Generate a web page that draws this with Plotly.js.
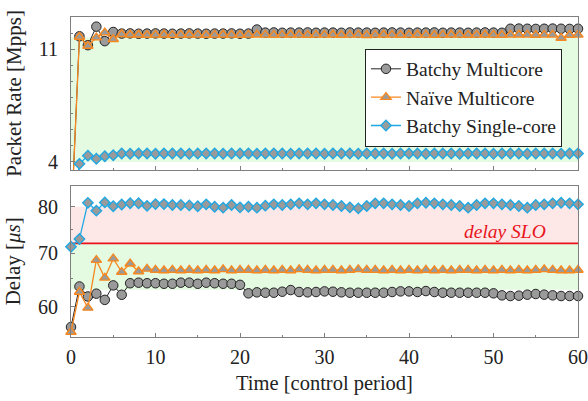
<!DOCTYPE html>
<html>
<head>
<meta charset="utf-8">
<script src="https://cdn.plot.ly/plotly-3.0.1.min.js"></script>
<style>html,body{margin:0;padding:0;background:#fff;}#chart{width:588px;height:401px;}</style>
</head>
<body>
<div id="chart"></div>
<script>
// ---- data ----
const seriesNames = ['Batchy Multicore', 'Naïve Multicore', 'Batchy Single-core'];
const timeSteps = Array.from({length: 61}, (_, i) => i);

const rateBatchyMulti = [0, 11.8, 11.25, 12.4, 11.5, 12.07,
  11.97, 11.98, 11.96, 11.97, 11.98, 11.97, 11.96, 11.97, 11.98, 11.97, 11.96, 11.97, 11.97, 11.98, 11.96, 11.97,
  12.22,
  12.03, 12.04, 12.02, 12.03, 12.03, 12.04, 12.02, 12.03, 12.03, 12.02, 12.04, 12.03, 12.03, 12.02, 12.03, 12.04,
  12.03, 12.02, 12.03, 12.03, 12.04, 12.02, 12.03, 12.03, 12.02, 12.03, 12.04, 12.03, 12.02,
  12.27, 12.28, 12.27, 12.26, 12.27, 12.28, 12.27, 12.26, 12.27];
const rateNaiveMulti = [0, 11.76, 11.2, 11.72, 12.03, 11.62,
  11.93, 11.9, 11.9, 11.88, 11.89, 11.9, 11.88, 11.89, 11.9, 11.89, 11.88, 11.89, 11.9, 11.89, 11.88,
  11.89, 11.9, 11.89, 11.88, 11.89, 11.9, 11.89, 11.88, 11.89, 11.89, 11.9, 11.88, 11.89, 11.89, 11.87,
  11.89, 11.9, 11.89, 11.88, 11.89, 11.9, 11.89, 11.88, 11.89, 11.9, 11.89, 11.88, 11.89, 11.9, 11.89,
  11.88, 11.89, 11.9, 11.89, 11.88, 11.89, 11.89, 11.7, 11.88, 11.89];
const rateBatchySingle = [0, 3.88, 4.39, 4.2, 4.35, 4.41,
  4.52, 4.51, 4.52, 4.52, 4.51, 4.52, 4.52, 4.52, 4.51, 4.52, 4.52, 4.52, 4.51, 4.52, 4.52,
  4.52, 4.51, 4.52, 4.52, 4.52, 4.51, 4.52, 4.52, 4.52, 4.51, 4.52, 4.52, 4.52, 4.51, 4.52,
  4.52, 4.52, 4.51, 4.52, 4.52, 4.52, 4.51, 4.52, 4.52, 4.52, 4.51, 4.52, 4.52, 4.52, 4.51,
  4.52, 4.52, 4.52, 4.51, 4.52, 4.52, 4.52, 4.51, 4.52, 4.52];

const delayBatchyMulti = [56.6, 63.6, 61.8, 62.3, 61.2, 63.8, 62.1, 64.2, 64.3, 64.2, 64.2,
  64.1, 64.1, 64.3, 64.3, 64.1, 64.3, 64.2, 64.1, 64.1, 63.9,
  62.36, 62.54, 62.47, 62.47, 62.65, 62.95, 62.6, 62.54, 62.6, 62.71,
  62.65, 62.54, 62.47, 62.47, 62.47, 62.47, 62.47, 62.6, 62.71, 62.71,
  62.6, 62.77, 62.6, 62.47, 62.47, 62.47, 62.47, 62.47, 62.47, 62.36,
  62.0, 61.88, 61.94, 62.12, 62.24, 62.12, 62.0, 61.88, 61.88, 61.88];
const delayNaiveMulti = [55.8, 62.6, 59.8, 68.6, 65.2, 68.9, 66.3, 67.9, 66.4, 66.9, 66.7,
  66.6, 66.7, 66.6, 66.7, 66.6, 66.7, 66.6, 66.8, 66.6, 66.7,
  66.7, 66.6, 66.7, 66.6, 66.7, 66.6, 66.8, 66.7, 66.6, 66.7,
  66.7, 66.6, 66.7, 66.8, 66.7, 66.7, 66.6, 66.7, 66.6, 66.7,
  66.6, 66.7, 66.6, 66.7, 66.6, 66.7, 66.7, 66.6, 66.7, 66.6,
  66.7, 66.6, 66.7, 66.6, 66.7, 66.8, 66.7, 66.6, 66.6, 66.7];
const delayBatchySingle = [71.3, 72.9, 80.9, 79.1, 81.0, 80.1, 80.5, 80.8, 80.8, 80.2, 80.6,
  80.6, 80.4, 80.4, 80.3, 80.1,
  80.55, 80.0, 79.78, 80.39, 79.85, 80.0, 79.78, 80.24, 80.55, 80.39,
  80.55, 80.78, 80.55, 80.78, 80.55, 80.39, 80.16, 79.85, 79.63, 80.16,
  80.78, 80.78, 80.55, 80.39, 80.16, 80.78, 80.93, 80.78, 80.55, 80.39,
  80.16, 79.78, 80.39, 80.78, 80.78, 80.55, 80.39, 80.16, 79.78, 80.39,
  80.55, 80.78, 80.93, 80.78, 80.55];

const rateBandLow = 4, rateBandHigh = 11.75;
const delaySLO = 72, delayBandHigh = 80, delayBandLow = 63;
const xTicks = [0, 10, 20, 30, 40, 50, 60];
const rateTicks = [4, 11];
const delayTicks = [60, 70, 80];
const delayMinorTicks = [65, 75];

// ---- style ----
const FONT = '"Liberation Serif", "Times New Roman", Times, serif';
const TXT = '#222222';
const FRAME = '#7f7f7f';
const cBlack = '#222222', cOrange = '#f7881f', cBlue = '#1fa8e3', cGray = '#9a9a9a';
const green = 'rgba(228,250,225,1)', pink = 'rgba(253,231,231,1)';
const tMin = timeSteps[0], tMax = timeSteps[timeSteps.length - 1];
const hideFirst = timeSteps.map((t, i) => i === 0 ? 0 : 1);

function band(x0, x1, y0, y1, color, xa, ya) {
  return {x: [x0, x1, x1, x0, x0], y: [y0, y0, y1, y1, y0], xaxis: xa, yaxis: ya,
    mode: 'lines', fill: 'toself', fillcolor: color, line: {width: 0},
    hoverinfo: 'skip', showlegend: false};
}

const styles = [
  {line: {color: cBlack, width: 1}, marker: {symbol: 'circle', size: 9.5, color: cGray, line: {color: cBlack, width: 1}}},
  {line: {color: cOrange, width: 1.3}, marker: {symbol: 'triangle-up', size: 9, color: cGray, line: {color: cOrange, width: 1.4}}},
  {line: {color: cBlue, width: 1.3}, marker: {symbol: 'diamond', size: 8, color: cGray, line: {color: cBlue, width: 1.4}}}
];
const rateSeries = [rateBatchyMulti, rateNaiveMulti, rateBatchySingle];
const delaySeries = [delayBatchyMulti, delayNaiveMulti, delayBatchySingle];

const traces = [
  band(tMin, tMax, rateBandLow, rateBandHigh, green, 'x', 'y'),
  band(tMin, tMax, delayBandLow, delaySLO, green, 'x2', 'y2'),
  band(tMin, tMax, delaySLO, delayBandHigh, pink, 'x2', 'y2'),
  {x: [tMin, tMax], y: [delaySLO, delaySLO], xaxis: 'x2', yaxis: 'y2', mode: 'lines',
   line: {color: '#e8141c', width: 1.6}, hoverinfo: 'skip', showlegend: false}
];
seriesNames.forEach((name, k) => {
  const s = styles[k];
  traces.push({x: timeSteps, y: rateSeries[k], xaxis: 'x', yaxis: 'y', name: name,
    mode: 'lines+markers', line: s.line, legendgroup: name,
    marker: Object.assign({}, s.marker, {opacity: hideFirst}), cliponaxis: false});
});
seriesNames.forEach((name, k) => {
  const s = styles[k];
  traces.push({x: timeSteps, y: delaySeries[k], xaxis: 'x2', yaxis: 'y2', name: name,
    mode: 'lines+markers', line: s.line, marker: s.marker, legendgroup: name,
    showlegend: false, cliponaxis: false});
});

const axisBase = {showline: true, linecolor: FRAME, linewidth: 1, mirror: true,
  ticks: 'inside', ticklen: 4, tickcolor: FRAME, showgrid: false, zeroline: false,
  tickfont: {family: FONT, size: 20, color: TXT}};

const layout = {
  width: 588, height: 401,
  margin: {l: 71, r: 10, t: 17, b: 64},
  paper_bgcolor: '#ffffff', plot_bgcolor: '#ffffff',
  font: {family: FONT, size: 20, color: TXT},
  showlegend: true,
  legend: {x: 0.9684, y: 0.748, xanchor: 'right', yanchor: 'middle',
    bgcolor: '#ffffff', bordercolor: '#222222', borderwidth: 1,
    font: {family: FONT, size: 19.5, color: TXT}, tracegroupgap: 0},
  xaxis: Object.assign({}, axisBase, {domain: [0, 1], anchor: 'y', range: [tMin, tMax],
    tickvals: xTicks, showticklabels: false,
    minor: {dtick: 5, ticks: 'inside', ticklen: 2, tickcolor: FRAME}}),
  yaxis: Object.assign({}, axisBase, {domain: [0.522, 1], anchor: 'x', range: [3.5, 13],
    tickvals: rateTicks, ticktext: rateTicks.map(String), ticklabelstandoff: 8,
    minor: {dtick: 1, tick0: 0, ticks: 'inside', ticklen: 2, tickcolor: FRAME},
    title: {text: 'Packet Rate [Mpps]', font: {family: FONT, size: 21, color: TXT}, standoff: 11}}),
  xaxis2: Object.assign({}, axisBase, {domain: [0, 1], anchor: 'y2', range: [tMin, tMax],
    tickvals: xTicks, ticklabelstandoff: 2,
    minor: {dtick: 5, ticks: 'inside', ticklen: 2, tickcolor: FRAME},
    title: {text: 'Time [control period]', font: {family: FONT, size: 20.5, color: TXT}, standoff: 8}}),
  yaxis2: Object.assign({}, axisBase, {domain: [0, 0.473], anchor: 'x2', type: 'log',
    range: [Math.log10(55), Math.log10(85)],
    tickvals: delayTicks, ticktext: delayTicks.map(String), ticklabelstandoff: 8,
    minor: {tickvals: delayMinorTicks, ticks: 'inside', ticklen: 2, tickcolor: FRAME},
    title: {text: 'Delay [<i>μs</i>]', font: {family: FONT, size: 21, color: TXT}, standoff: 11}}),
  annotations: [{
    text: '<i>delay SLO</i>', xref: 'x2', x: 56.4, xanchor: 'right',
    yref: 'paper', y: 0.293, yanchor: 'bottom', yshift: -1, showarrow: false,
    font: {family: FONT, size: 19.5, color: '#e8141c'}
  }]
};

Plotly.newPlot('chart', traces, layout, {displayModeBar: false, staticPlot: true});
</script>
</body>
</html>
